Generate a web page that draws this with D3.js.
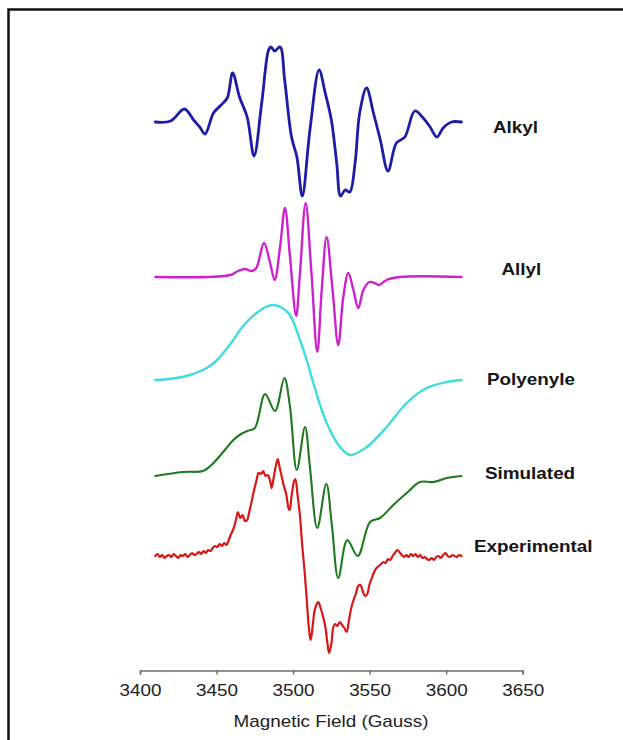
<!DOCTYPE html>
<html>
<head>
<meta charset="utf-8">
<script src="https://cdn.jsdelivr.net/npm/d3@7"></script>
<style>
  html, body { margin: 0; padding: 0; background: #fff; }
  svg { display: block; }
</style>
</head>
<body>
<svg id="chart" width="623" height="740"></svg>
<script>
// EPR spectra: field in Gauss, signal in arbitrary units (first derivative)
const alkylField  = [3410, 3420, 3429, 3435, 3439, 3442.5, 3448, 3453, 3457, 3460.5, 3465, 3470, 3474.5, 3479.5, 3484, 3485.5, 3488, 3491.5, 3494.5, 3499, 3502.5, 3506, 3511, 3517, 3521, 3525, 3528.5, 3531, 3534, 3537, 3540.5, 3543.5, 3548, 3552.5, 3557, 3562, 3567.5, 3573, 3579.5, 3585, 3589.5, 3594, 3598, 3603.5, 3610];
const alkylSignal = [0, 1, 13, 2, -5, -12, 9, 17, 24, 49, 25, 5, -34, 19, 72, 75, 71, 75, 42, -15, -35, -74, -8, 52, 29, 2, -41, -74, -68, -70, -41, 9, 34, 9, -18, -49, -21, -15, 11, 4, -5, -15, -6, 0, 0];

const allylField  = [3410, 3459, 3464, 3468.5, 3473, 3476, 3481, 3485, 3488, 3491.5, 3494.7, 3498, 3502, 3504.5, 3508.2, 3512, 3515.8, 3518.7, 3521.9, 3525.8, 3529.5, 3532.8, 3536.1, 3539.4, 3542.6, 3545.9, 3549.8, 3553.3, 3556.3, 3561, 3570, 3610];
const allylSignal = [0, 2, 6, 8, 6, 9, 34, 14, -3, 30, 69, 20, -39, 4, 74, 4, -75, -13, 40, -13, -68, -20, 4, -13, -31, -13, -5, -6, -8, -3, 0, 0];

const polyenyleField  = [3410, 3421.7, 3432.7, 3438, 3443.6, 3449, 3454.4, 3460, 3465.3, 3471, 3476.2, 3482, 3487, 3493, 3498, 3504.5, 3508.9, 3513.2, 3521.9, 3530.7, 3537.2, 3548.1, 3561.1, 3574.2, 3587.2, 3600.3, 3610];
const polyenyleSignal = [0, 1.5, 5, 8, 12, 18, 27, 38, 50, 60, 67, 73, 75, 72, 65, 40, 20, -3, -43, -67, -75, -67, -47, -23, -8, -2, 0];

const simulatedField  = [3410, 3428, 3441, 3446, 3451, 3456, 3461, 3466, 3470, 3475, 3481.7, 3488.2, 3494.3, 3498, 3502.4, 3507.8, 3511, 3515.8, 3521.7, 3525.4, 3529.5, 3535.4, 3542.2, 3550.3, 3556.8, 3565.5, 3574.2, 3582.9, 3591.6, 3600.4, 3610];
const simulatedSignal = [0, 4, 5, 10, 18, 27, 36, 42, 45, 48, 82, 65, 98, 69, 6, 49, 9, -52, -8, -50, -102, -64, -80, -46, -42, -29, -17, -6, -6, -2, 0];

const experimentalField  = [3410, 3411.5, 3413, 3414.5, 3416, 3417.5, 3419, 3420.5, 3422, 3423.5, 3425, 3426.5, 3428, 3429.5, 3431, 3432.5, 3434, 3435.5, 3437, 3438.5, 3440, 3441.5, 3443, 3444.5, 3446, 3447.5, 3449, 3450.5, 3452, 3453.5, 3455, 3456.5, 3458, 3459.5, 3461, 3462.5, 3464, 3465.5, 3467, 3468.5, 3470, 3471.5, 3473, 3474.5, 3476, 3477.5, 3479, 3480.5, 3482, 3483.5, 3485, 3486, 3487.5, 3489, 3490, 3491, 3492.5, 3494, 3495.5, 3497, 3497.8, 3499, 3500.5, 3501.5, 3503, 3504.5, 3506, 3507.5, 3509, 3510.5, 3511.5, 3512.8, 3514, 3515.5, 3516.5, 3518, 3519.5, 3521, 3522.5, 3523.5, 3525, 3526.3, 3527.5, 3529, 3530.5, 3532, 3533.5, 3535, 3536.5, 3538, 3539.5, 3541, 3542.5, 3544, 3545.5, 3547, 3548.5, 3550, 3551.5, 3553, 3554.5, 3556, 3557.5, 3559, 3560.5, 3562, 3563.5, 3565, 3566.5, 3568, 3569.5, 3571, 3572.5, 3574, 3575.5, 3577, 3578.5, 3580, 3581.5, 3583, 3584.5, 3586, 3587.5, 3589, 3590.5, 3592, 3593.5, 3595, 3596.5, 3598, 3599.5, 3601, 3602.5, 3604, 3605.5, 3607, 3608.5, 3610];
const experimentalSignal = [0, 2, -1, 1, -2, 0, 1, -1, 2, 0, -2, 1, 0, 2, -1, 1, 3, 1, 2, 4, 2, 5, 3, 6, 5, 8, 10, 9, 12, 10, 13, 11, 16, 22, 27, 35, 44, 38, 41, 35, 36, 45, 55, 66, 75, 83, 82, 85, 80, 81, 75, 68, 80, 92, 97, 90, 80, 70, 62, 48, 46, 60, 74, 77, 60, 40, 10, -15, -45, -75, -84, -70, -55, -48, -46, -52, -60, -70, -88, -97, -88, -71, -68, -70, -66, -69, -72, -76, -64, -52, -44, -38, -30, -29, -35, -40, -38, -28, -22, -16, -12, -10, -8, -6, -7, -3, -4, 0, 3, 6, 4, 1, -1, 1, -1, 2, 0, 2, -1, 1, -2, -1, -3, -4, -2, -4, -1, 0, -2, 1, 3, 0, -1, 1, 0, -1, 1, 0];

const seriesNames = ["Alkyl", "Allyl", "Polyenyle", "Simulated", "Experimental"];
const fieldTicks = [3400, 3450, 3500, 3550, 3600, 3650];
const axisTitle = "Magnetic Field (Gauss)";

// Stacked layout: each trace sits on its own baseline (arbitrary units)
const traces = [
  { name: seriesNames[0], field: alkylField, signal: alkylSignal, base: 558, color: "#1c1ca6", width: 2.8, label: [493, 133] },
  { name: seriesNames[1], field: allylField, signal: allylSignal, base: 403, color: "#cc22cc", width: 2.4, label: [501.5, 275] },
  { name: seriesNames[2], field: polyenyleField, signal: polyenyleSignal, base: 300, color: "#3fdcdf", width: 2.4, label: [487, 385] },
  { name: seriesNames[3], field: simulatedField, signal: simulatedSignal, base: 204, color: "#1f7a1f", width: 2.1, label: [485, 479] },
  { name: seriesNames[4], field: experimentalField, signal: experimentalSignal, base: 124, color: "#d81818", width: 2.2, label: [474, 552] }
];

const svg = d3.select("#chart");
const stretch = 1.18;   // wide text face

// frame
svg.append("rect")
  .attr("x", 8.5).attr("y", 9.5)
  .attr("width", 700).attr("height", 800)
  .attr("fill", "none").attr("stroke", "#111").attr("stroke-width", 2.5);

const x = d3.scaleLinear().domain([3400, 3650]).range([140, 522.7]);
const y = d3.scaleLinear().domain([0, 660]).range([680, 20]);

const line = d3.line()
  .x(d => x(d[0]))
  .y(d => y(d[1]))
  .curve(d3.curveCatmullRom.alpha(0.5));

traces.forEach(t => {
  const pts = t.field.map((f, i) => [f, t.base + t.signal[i]]);
  svg.append("path")
    .datum(pts)
    .attr("d", line)
    .attr("fill", "none")
    .attr("stroke", t.color)
    .attr("stroke-width", t.width)
    .attr("stroke-linejoin", "round")
    .attr("stroke-linecap", "round");

  svg.append("text")
    .attr("transform", `translate(${t.label[0]},${t.label[1]}) scale(${stretch},1)`)
    .attr("font-family", "Liberation Sans, Arial, sans-serif")
    .attr("font-size", 16)
    .attr("font-weight", "bold")
    .attr("fill", "#151515")
    .text(t.name);
});

// x axis
const axis = svg.append("g")
  .attr("transform", "translate(0,670.5)")
  .call(d3.axisBottom(x).tickValues(fieldTicks).tickFormat(d3.format("d")).tickSizeOuter(0).tickSize(4));

axis.select(".domain").attr("stroke", "#6e6e6e").attr("stroke-width", 1.5);
axis.selectAll(".tick line").attr("stroke", "#6e6e6e").attr("stroke-width", 1.5);
axis.selectAll(".tick text")
  .attr("y", 26).attr("dy", 0)
  .attr("transform", `scale(${stretch},1)`)
  .attr("font-family", "Liberation Sans, Arial, sans-serif")
  .attr("font-size", 16)
  .attr("fill", "#222");

svg.append("text")
  .attr("transform", `translate(331,727) scale(${stretch},1)`)
  .attr("text-anchor", "middle")
  .attr("font-family", "Liberation Sans, Arial, sans-serif")
  .attr("font-size", 16)
  .attr("fill", "#222")
  .text(axisTitle);
</script>
</body>
</html>
